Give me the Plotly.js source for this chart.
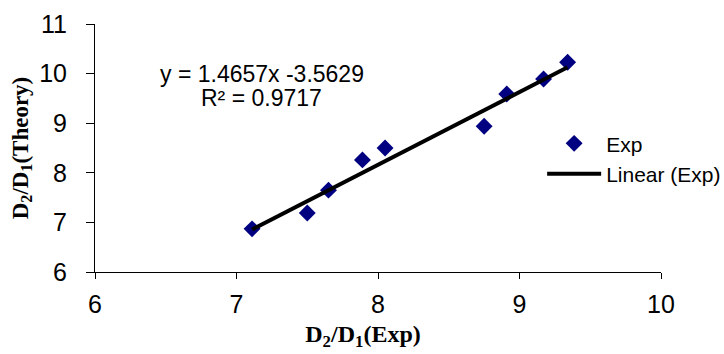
<!DOCTYPE html>
<html>
<head>
<meta charset="utf-8">
<script src="https://cdn.plot.ly/plotly-3.0.1.min.js"></script>
<style>
html,body{margin:0;padding:0;background:#fff;}
#chart{width:724px;height:354px;}
</style>
</head>
<body>
<div id="chart"></div>
<script>
// Data
const expX = [7.11, 7.50, 7.65, 7.89, 8.05, 8.75, 8.91, 9.17, 9.34];
const theoryY = [6.87, 7.19, 7.65, 8.26, 8.50, 8.94, 9.59, 9.89, 10.23];
const slope = 1.4657;
const intercept = -3.5629;
const rSquared = 0.9717;
const xTicks = [6, 7, 8, 9, 10];
const yTicks = [6, 7, 8, 9, 10, 11];

const xMin = Math.min(...expX), xMax = Math.max(...expX);
const fitX = [xMin, xMax];
const fitY = fitX.map(v => slope * v + intercept);

const sans = 'Liberation Sans, Arial, sans-serif';
const serif = 'Liberation Serif, Times New Roman, serif';

const traces = [
  {x: expX, y: theoryY, mode: 'markers', type: 'scatter', name: 'Exp',
   marker: {symbol: 'diamond', size: 13, color: '#000080'}},
  {x: fitX, y: fitY, mode: 'lines', type: 'scatter', name: 'Linear (Exp)',
   line: {color: '#000000', width: 4}}
];

const layout = {
  width: 724, height: 354,
  margin: {l: 95, r: 63, t: 24, b: 82, autoexpand: false},
  paper_bgcolor: '#ffffff', plot_bgcolor: '#ffffff',
  showlegend: true,
  legend: {x: 0.79, y: 0.6, xanchor: 'left', yanchor: 'top',
           font: {family: sans, size: 21, color: '#000'}, bgcolor: 'rgba(0,0,0,0)',
           tracegroupgap: 5, itemwidth: 54},
  xaxis: {range: [6, 10], tickvals: xTicks, ticks: 'outside', ticklen: 6, tickwidth: 1,
          tickcolor: '#000', showline: true, linecolor: '#000', linewidth: 1,
          showgrid: false, zeroline: false, ticklabelstandoff: 4,
          tickfont: {family: sans, size: 25, color: '#000'},
          title: {text: '<b>D<sub>2</sub>/D<sub>1</sub>(Exp)</b>&nbsp;&nbsp;&nbsp;&nbsp;&nbsp;', standoff: 8,
                  font: {family: serif, size: 24, color: '#000'}}},
  yaxis: {range: [6, 11], tickvals: yTicks, ticks: 'outside', ticklen: 8, tickwidth: 1,
          tickcolor: '#000', showline: true, linecolor: '#000', linewidth: 1,
          showgrid: false, zeroline: false, ticklabelstandoff: 14,
          tickfont: {family: sans, size: 25, color: '#000'},
          title: {text: '<b>D<sub>2</sub>/D<sub>1</sub>(Theory)</b>', standoff: 4,
                  font: {family: serif, size: 23, color: '#000'}}},
  annotations: [
    {xref: 'x', yref: 'y', x: 7.18, y: 10.0, showarrow: false,
     text: 'y = ' + slope + 'x -' + Math.abs(intercept).toFixed(4),
     font: {family: sans, size: 23, color: '#000'}},
    {xref: 'x', yref: 'y', x: 7.18, y: 9.5, showarrow: false,
     text: 'R² = ' + rSquared,
     font: {family: sans, size: 23, color: '#000'}}
  ]
};

Plotly.newPlot('chart', traces, layout, {displayModeBar: false, staticPlot: true});
</script>
</body>
</html>
